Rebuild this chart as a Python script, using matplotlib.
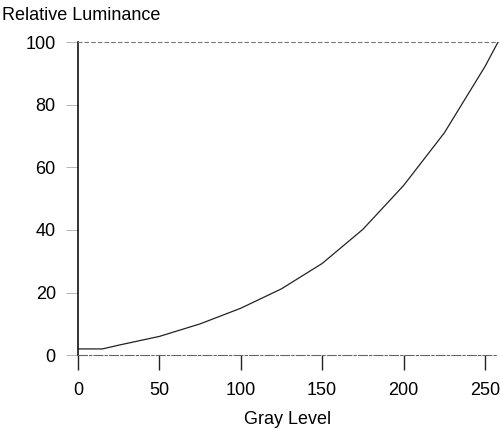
import matplotlib
matplotlib.use('Agg')
import matplotlib.pyplot as plt

# Valores
gray_level = [0, 15, 25, 50, 75, 100, 125, 150, 175, 200, 225, 250, 258]
luminance = [2, 2, 3.2, 6.0, 10.0, 15.0, 21.2, 29.3, 40.2, 54.2, 71.0, 92.2, 100]

x_ticks = [0, 50, 100, 150, 200, 250]
y_ticks = [0, 20, 40, 60, 80, 100]

plt.rcParams['font.family'] = ['Liberation Sans', 'DejaVu Sans']

fig = plt.figure(figsize=(5.0, 4.3), dpi=100)
ax = fig.add_axes([0.156, 0.174, 0.84, 0.728])

ax.plot(gray_level, luminance, color='#222222', linewidth=0.9)

ax.set_xlim(0, 258)
ax.set_ylim(0, 100)
ax.set_xticks(x_ticks)
ax.set_yticks(y_ticks)

# Estilo dos eixos (imitando a figura escaneada)
ax.spines['right'].set_visible(False)
ax.spines['left'].set_color('#111111')
ax.spines['left'].set_linewidth(1.2)
ax.spines['top'].set_color('#777777')
ax.spines['top'].set_linewidth(0.8)
ax.spines['top'].set_linestyle((0, (3, 3)))
ax.spines['bottom'].set_color('#666666')
ax.spines['bottom'].set_linewidth(0.8)
ax.spines['bottom'].set_linestyle((0, (8, 2, 2, 2)))

ax.tick_params(axis='x', direction='out', length=11, width=1.0, color='#222222',
               pad=8, labelsize=13)
ax.tick_params(axis='y', direction='out', length=9, width=0.6, color='#aaaaaa',
               pad=7, labelsize=13)

ax.set_xlabel('Gray Level', fontsize=13, labelpad=9)
fig.text(0.004, 0.963, 'Relative Luminance', fontsize=13, ha='left', va='center')

fig.savefig('out.png', dpi=100)
plt.close(fig)
